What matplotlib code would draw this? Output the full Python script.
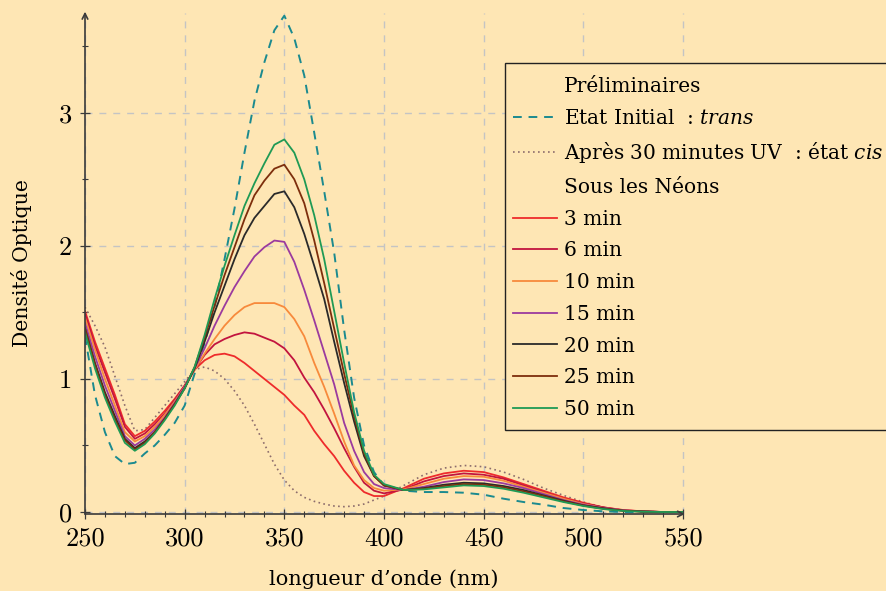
import matplotlib
matplotlib.use("Agg")
import matplotlib.pyplot as plt
from matplotlib.lines import Line2D
from matplotlib.patches import Rectangle
from matplotlib.ticker import MultipleLocator, FixedLocator

plt.rcParams['mathtext.fontset'] = 'custom'
plt.rcParams['mathtext.rm'] = 'DejaVu Serif'
plt.rcParams['mathtext.it'] = 'DejaVu Serif:italic'

# ---------------- data ----------------
wavelength = [250, 255, 260, 265, 270, 275, 280, 285, 290, 295, 300, 305, 310, 315, 320,
              325, 330, 335, 340, 345, 350, 355, 360, 365, 370, 375, 380, 385, 390, 395,
              400, 410, 420, 430, 440, 450, 460, 470, 480, 490, 500, 510, 520, 530, 540, 550]

etat_initial_trans = [1.32, 0.88, 0.60, 0.42, 0.36, 0.37, 0.44, 0.50, 0.58, 0.67, 0.80, 1.04, 1.27, 1.54, 1.90,
                      2.28, 2.70, 3.09, 3.38, 3.62, 3.73, 3.56, 3.28, 2.85, 2.41, 1.95, 1.37, 0.86, 0.50, 0.30,
                      0.20, 0.16, 0.15, 0.15, 0.145, 0.13, 0.10, 0.075, 0.055, 0.03, 0.015, 0.005, 0.0, 0.0, 0.0, 0.0]

apres_uv_cis = [1.54, 1.40, 1.24, 1.02, 0.80, 0.61, 0.62, 0.71, 0.80, 0.89, 0.98, 1.07, 1.09, 1.06, 1.00,
                0.91, 0.80, 0.66, 0.51, 0.36, 0.24, 0.16, 0.11, 0.08, 0.06, 0.045, 0.04, 0.045, 0.06, 0.09,
                0.12, 0.20, 0.28, 0.33, 0.35, 0.34, 0.30, 0.245, 0.18, 0.125, 0.075, 0.035, 0.012, 0.004, 0.0, 0.0]

neon_3min = [1.51, 1.28, 1.08, 0.88, 0.66, 0.57, 0.61, 0.68, 0.76, 0.85, 0.95, 1.07, 1.14, 1.18, 1.19,
             1.17, 1.12, 1.06, 1.00, 0.94, 0.88, 0.80, 0.73, 0.61, 0.51, 0.42, 0.31, 0.22, 0.15, 0.12,
             0.12, 0.18, 0.25, 0.29, 0.31, 0.30, 0.26, 0.21, 0.16, 0.11, 0.07, 0.035, 0.015, 0.005, 0.0, 0.0]

neon_6min = [1.49, 1.25, 1.05, 0.85, 0.64, 0.55, 0.59, 0.66, 0.74, 0.84, 0.95, 1.07, 1.18, 1.26, 1.30,
             1.33, 1.35, 1.34, 1.31, 1.28, 1.23, 1.14, 1.01, 0.90, 0.77, 0.63, 0.48, 0.34, 0.22, 0.16,
             0.14, 0.17, 0.23, 0.27, 0.29, 0.28, 0.25, 0.20, 0.15, 0.10, 0.065, 0.035, 0.013, 0.005, 0.0, 0.0]

neon_10min = [1.46, 1.22, 1.00, 0.80, 0.60, 0.53, 0.57, 0.64, 0.73, 0.83, 0.94, 1.07, 1.19, 1.30, 1.40,
              1.48, 1.54, 1.57, 1.57, 1.57, 1.54, 1.45, 1.32, 1.12, 0.94, 0.74, 0.53, 0.35, 0.24, 0.18,
              0.16, 0.17, 0.21, 0.25, 0.27, 0.265, 0.235, 0.19, 0.145, 0.10, 0.06, 0.03, 0.012, 0.004, 0.0, 0.0]

neon_15min = [1.42, 1.17, 0.95, 0.76, 0.57, 0.50, 0.55, 0.62, 0.71, 0.82, 0.94, 1.08, 1.23, 1.40, 1.55,
              1.69, 1.81, 1.92, 1.99, 2.04, 2.03, 1.88, 1.67, 1.44, 1.20, 0.96, 0.67, 0.46, 0.30, 0.21,
              0.18, 0.165, 0.19, 0.225, 0.245, 0.24, 0.215, 0.18, 0.135, 0.09, 0.055, 0.03, 0.012, 0.004, 0.0, 0.0]

neon_20min = [1.38, 1.12, 0.90, 0.72, 0.55, 0.48, 0.53, 0.60, 0.70, 0.81, 0.93, 1.08, 1.28, 1.50, 1.70,
              1.90, 2.08, 2.21, 2.30, 2.39, 2.41, 2.29, 2.09, 1.85, 1.60, 1.28, 0.97, 0.68, 0.42, 0.27,
              0.20, 0.165, 0.18, 0.205, 0.22, 0.215, 0.195, 0.165, 0.125, 0.085, 0.05, 0.028, 0.01, 0.004, 0.0, 0.0]

neon_25min = [1.38, 1.11, 0.88, 0.70, 0.54, 0.47, 0.52, 0.60, 0.70, 0.81, 0.93, 1.09, 1.31, 1.55, 1.78,
              1.99, 2.20, 2.38, 2.49, 2.58, 2.61, 2.50, 2.32, 2.04, 1.72, 1.38, 1.04, 0.72, 0.44, 0.27,
              0.20, 0.165, 0.175, 0.195, 0.21, 0.205, 0.185, 0.155, 0.12, 0.08, 0.048, 0.025, 0.01, 0.003, 0.0, 0.0]

neon_50min = [1.35, 1.08, 0.86, 0.68, 0.52, 0.46, 0.51, 0.59, 0.69, 0.80, 0.93, 1.09, 1.33, 1.60, 1.85,
              2.08, 2.30, 2.47, 2.62, 2.76, 2.80, 2.70, 2.50, 2.23, 1.90, 1.51, 1.12, 0.75, 0.46, 0.28,
              0.21, 0.165, 0.17, 0.185, 0.20, 0.195, 0.175, 0.145, 0.11, 0.075, 0.045, 0.022, 0.008, 0.002, 0.0, 0.0]

neon_labels = ['3 min', '6 min', '10 min', '15 min', '20 min', '25 min', '50 min']
neon_series = [neon_3min, neon_6min, neon_10min, neon_15min, neon_20min, neon_25min, neon_50min]
neon_colors = ['#EE2B2B', '#C2143F', '#F78A3C', '#9B3A9E', '#2A2A2A', '#7D2E0C', '#1F9A55']

x_ticks = [250, 300, 350, 400, 450, 500, 550]
y_ticks = [0, 1, 2, 3]

# ---------------- figure ----------------
BG = '#FEE6B4'
AX = '#3A3A3A'
W, H = 886, 591
fig = plt.figure(figsize=(W / 100, H / 100), dpi=100, facecolor=BG)
x0, x1 = 85, 683
y_top, y_bot = 13, 514
ax = fig.add_axes([x0 / W, 1 - y_bot / H, (x1 - x0) / W, (y_bot - y_top) / H])
ax.set_facecolor(BG)
ax.set_xlim(250, 550)
ax.set_ylim(-0.015, 3.75)

for s in ax.spines.values():
    s.set_visible(False)

# grid
for xv in x_ticks:
    ax.plot([xv, xv], [-0.015, 3.75], color='#C4C4C4', lw=1.0, ls=(0, (5, 5)), zorder=0.5, clip_on=False)
for yv in y_ticks:
    ax.plot([250, 550], [yv, yv], color='#C4C4C4', lw=1.0, ls=(0, (5, 5)), zorder=0.5, clip_on=False)

# curves
ax.plot(wavelength, etat_initial_trans, color='#1B8A8F', lw=1.4, ls=(0, (4.5, 3.5)), zorder=3)
ax.plot(wavelength, apres_uv_cis, color='#8C6C6C', lw=1.2, ls=(0, (1, 2)), zorder=3)
for vals, col in zip(neon_series, neon_colors):
    ax.plot(wavelength, vals, color=col, lw=1.3, zorder=3)

# axes with arrows
ax.annotate('', xy=(551, -0.015), xytext=(250, -0.015),
            arrowprops=dict(arrowstyle='->', lw=1.2, color=AX, shrinkA=0, shrinkB=0),
            annotation_clip=False, zorder=4)
ax.annotate('', xy=(250, 3.76), xytext=(250, -0.015),
            arrowprops=dict(arrowstyle='->', lw=1.2, color=AX, shrinkA=0, shrinkB=0),
            annotation_clip=False, zorder=4)

# ticks
ax.xaxis.set_major_locator(FixedLocator(x_ticks))
ax.xaxis.set_minor_locator(MultipleLocator(10))
ax.yaxis.set_major_locator(FixedLocator(y_ticks))
ax.yaxis.set_minor_locator(FixedLocator([0.5, 1.5, 2.5, 3.5]))
ax.tick_params(which='major', direction='inout', length=7, width=0.9, color=AX,
               labelsize=19, pad=6)
ax.tick_params(which='minor', direction='inout', length=5, width=0.8, color=AX)
ax.set_xticklabels([str(v) for v in x_ticks], fontfamily='cmr10')
ax.set_yticklabels([str(v) for v in y_ticks], fontfamily='cmr10')

ax.set_xlabel("longueur d\u2019onde (nm)", fontfamily='DejaVu Serif', fontsize=15, labelpad=13.5)
ax.set_ylabel("Densit\u00e9 Optique", fontfamily='DejaVu Serif', fontsize=14.7, labelpad=19)

# legend (frame drawn separately)
fig.patches.append(Rectangle((505 / W, 1 - 430 / H), 400 / W, (430 - 63) / H,
                             transform=fig.transFigure, facecolor=BG, edgecolor='#222222',
                             lw=1.0, zorder=5))
blank = Line2D([], [], color='none')
handles = [blank,
           Line2D([], [], color='#1B8A8F', lw=1.4, ls=(0, (4.5, 3.5))),
           Line2D([], [], color='#8C6C6C', lw=1.2, ls=(0, (1, 2))),
           blank]
labels = ['Pr\u00e9liminaires',
          'Etat Initial  : $\\mathit{trans}$',
          'Apr\u00e8s 30 minutes UV  : \u00e9tat $\\mathit{cis}$',
          'Sous les N\u00e9ons']
for lab, col in zip(neon_labels, neon_colors):
    handles.append(Line2D([], [], color=col, lw=1.3))
    labels.append(lab)

leg = fig.legend(handles, labels, loc='upper left', bbox_to_anchor=(513 / W, 1 - 77 / H),
                 prop={'family': 'DejaVu Serif', 'size': 14.5}, frameon=False,
                 handlelength=2.2, handletextpad=0.35, labelspacing=0.63, borderpad=0,
                 borderaxespad=0)
leg.set_zorder(6)

fig.savefig('out.png', dpi=100, facecolor=BG)
